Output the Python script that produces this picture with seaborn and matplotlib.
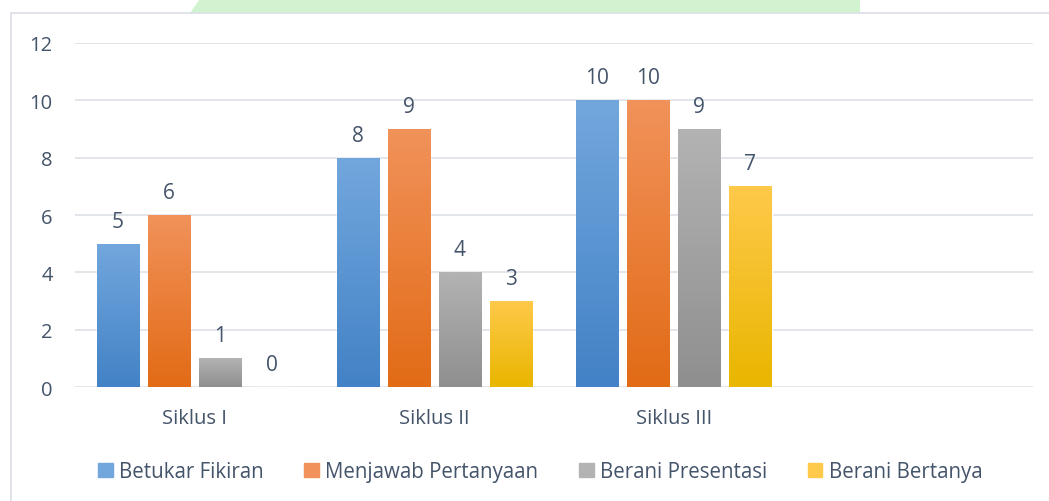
import numpy as np
import pandas as pd
import seaborn as sns
import matplotlib.pyplot as plt
from matplotlib.patches import Rectangle, Polygon
from matplotlib.colors import LinearSegmentedColormap

# data
siklus = ["Siklus I", "Siklus II", "Siklus III"]
betukar_fikiran = [5, 8, 10]
menjawab_pertanyaan = [6, 9, 10]
berani_presentasi = [1, 4, 9]
berani_bertanya = [0, 3, 7]
series_names = ["Betukar Fikiran", "Menjawab Pertanyaan", "Berani Presentasi", "Berani Bertanya"]

df = pd.DataFrame({
    "siklus": siklus * 4,
    "aspek": np.repeat(series_names, 3),
    "nilai": betukar_fikiran + menjawab_pertanyaan + berani_presentasi + berani_bertanya,
})

# warna gradien (atas, bawah) ala Excel
grad = {
    "Betukar Fikiran": ("#72a7dd", "#4382c6"),
    "Menjawab Pertanyaan": ("#f1925a", "#e26b16"),
    "Berani Presentasi": ("#b3b3b3", "#8f8f8f"),
    "Berani Bertanya": ("#ffc94a", "#e9b600"),
}
palette = {k: v[1] for k, v in grad.items()}
text_col = "#44546a"

sns.set_style("white")
plt.rcParams["font.family"] = ["Open Sans", "DejaVu Sans"]

fig = plt.figure(figsize=(10.49, 5.02), dpi=100)
ax = fig.add_axes([0.0715, 0.227, 0.9133, 0.6854])

sns.barplot(data=df, x="siklus", y="nilai", hue="aspek", order=siklus,
            hue_order=series_names, palette=palette, width=0.854, gap=0.176,
            saturation=1, ax=ax, legend=False)

ax.set_xlim(-0.5, 3.5)
ax.set_ylim(0, 12)
ax.set_yticks(range(0, 13, 2))
ax.set_xticks(range(len(siklus)))
ax.set_xticklabels(siklus)
ax.set_xlabel("")
ax.set_ylabel("")
ax.yaxis.grid(True, color="#dfe3e8", linewidth=1.3)
ax.set_axisbelow(True)
for s in ax.spines.values():
    s.set_visible(False)
ax.tick_params(axis="both", length=0, colors=text_col, labelsize=14.5)
ax.tick_params(axis="y", pad=16)
ax.tick_params(axis="x", pad=15)

# gradien di setiap batang + label nilai
for i, container in enumerate(ax.containers):
    top, bot = grad[series_names[i]]
    cmap = LinearSegmentedColormap.from_list("g", [bot, top])
    for bar in container:
        x0, w, h = bar.get_x(), bar.get_width(), bar.get_height()
        if h > 0:
            im = ax.imshow(np.linspace(0, 1, 100).reshape(-1, 1), cmap=cmap,
                           origin="lower", aspect="auto",
                           extent=(x0, x0 + w, 0, h), zorder=2)
            im.set_clip_path(bar)
        ax.text(x0 + w / 2, h + 0.42, f"{int(h)}", ha="center", va="bottom",
                fontsize=15, color=text_col)
ax.set_xlim(-0.5, 3.5)
ax.set_ylim(0, 12)

# legenda
handles = [Rectangle((0, 0), 1, 1, color=grad[k][0]) for k in series_names]
fig.legend(handles, series_names, loc="center", bbox_to_anchor=(0.515, 0.058),
           ncol=4, frameon=False, fontsize=14.8, handlelength=0.7,
           handleheight=0.7, handletextpad=0.3, columnspacing=2.0,
           labelcolor=text_col)

# bingkai chart
fig.patches.append(Rectangle((11 / 1049, -0.1), 1.1, 1 - 14 / 502 + 0.1,
                             transform=fig.transFigure, fill=False,
                             edgecolor="#dde2e8", linewidth=1.3))

# watermark hijau tipis di atas
fig.patches.append(Polygon([(190 / 1049, 1 - 14 / 502), (200 / 1049, 1.0),
                            (860 / 1049, 1.0), (860 / 1049, 1 - 14 / 502)],
                           closed=True, transform=fig.transFigure,
                           facecolor="#d2f3d0", edgecolor="none", zorder=-1))

fig.savefig("out.png", dpi=100, facecolor="white")
